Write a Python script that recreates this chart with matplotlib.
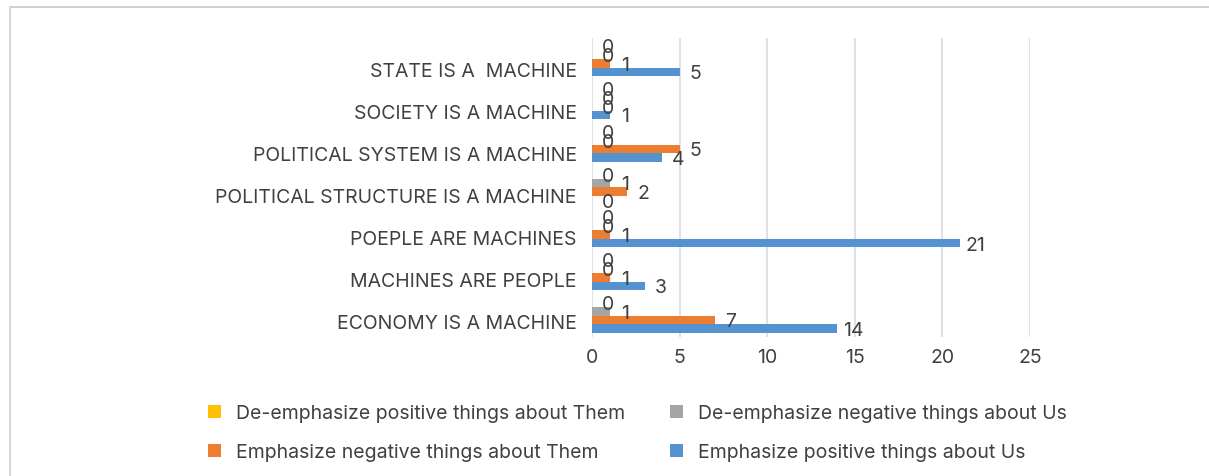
import matplotlib.pyplot as plt
import matplotlib.transforms as mtransforms
from matplotlib.lines import Line2D
from matplotlib.patches import Patch
import numpy as np

################################################## Data
categories = [
    "STATE IS A  MACHINE",
    "SOCIETY IS A MACHINE",
    "POLITICAL SYSTEM IS A MACHINE",
    "POLITICAL STRUCTURE IS A MACHINE",
    "POEPLE ARE MACHINES",
    "MACHINES ARE PEOPLE",
    "ECONOMY IS A MACHINE",
]
pos_us = [5, 1, 4, 0, 21, 3, 14]
neg_them = [1, 0, 5, 2, 1, 1, 7]
deneg_us = [0, 0, 0, 1, 0, 0, 1]
depos_them = [0, 0, 0, 0, 0, 0, 0]

series_names = [
    "Emphasize positive things about Us",
    "Emphasize negative things about Them",
    "De-emphasize negative things about Us",
    "De-emphasize positive things about Them",
]
series_colors = ["#5592d0", "#ed7d31", "#a5a5a5", "#ffc000"]
x_ticks = [0, 5, 10, 15, 20, 25]

################################################## Style
plt.rcParams['font.family'] = ['Inter', 'DejaVu Sans']
text_color = "#404040"
fs = 14

fig = plt.figure(figsize=(12.09, 4.77), dpi=100)
ax = fig.add_axes([0.4897, 0.2914, 0.3622, 0.6275])

n = len(categories)
y_base = np.arange(n)[::-1]
h = 0.203
offsets = [-1.5 * h, -0.5 * h, 0.5 * h, 1.5 * h]
all_series = [pos_us, neg_them, deneg_us, depos_them]

handles = []
for vals, name, color, off in zip(all_series, series_names, series_colors, offsets):
    ypos = y_base + off
    ax.barh(ypos, vals, height=h, color=color, zorder=3)
    for yv, v in zip(ypos, vals):
        ax.annotate(str(v), xy=(v, yv), xytext=(11.5, -1),
                    textcoords="offset points", ha="center", va="center",
                    fontsize=fs, color=text_color, zorder=4)
    handles.append(Patch(facecolor=color, label=name))

ax.set_xlim(0, 25)
ax.set_ylim(-0.5, n - 0.5)
ax.set_xticks(x_ticks)
ax.set_yticks(y_base)
ax.set_yticklabels(categories)
ax.tick_params(axis="both", length=0, labelsize=fs, labelcolor=text_color)
ax.tick_params(axis="y", pad=11)
ax.tick_params(axis="x", pad=8)

# category labels sit a little below the group centre
for i, lbl in enumerate(ax.get_yticklabels()):
    dy = (10 - 4.5 * i / (n - 1)) / 100
    lbl.set_transform(lbl.get_transform() +
                      mtransforms.ScaledTranslation(0, -dy, fig.dpi_scale_trans))

for s in ax.spines.values():
    s.set_visible(False)
ax.grid(axis="x", color="#dde2e8", linewidth=1.5, zorder=0)

# legend: yellow, orange / gray, blue
order = [3, 1, 2, 0]
fig.legend([handles[i] for i in order], [series_names[i] for i in order],
           ncol=2, loc="upper left", bbox_to_anchor=(208 / 1209, 1 - 405 / 477),
           frameon=False, fontsize=fs, labelcolor=text_color,
           handlelength=0.65, handleheight=0.65, handletextpad=0.8,
           labelspacing=1.1, columnspacing=2.3, borderpad=0, borderaxespad=0)

# outer frame lines
fig.add_artist(Line2D([10 / 1209, 1], [1 - 8 / 477, 1 - 8 / 477],
                      transform=fig.transFigure, color="#c4c8c4", linewidth=1.2))
fig.add_artist(Line2D([10 / 1209, 10 / 1209], [0, 1 - 8 / 477],
                      transform=fig.transFigure, color="#d6d6d6", linewidth=1.5))

fig.savefig("out.png", dpi=100)
